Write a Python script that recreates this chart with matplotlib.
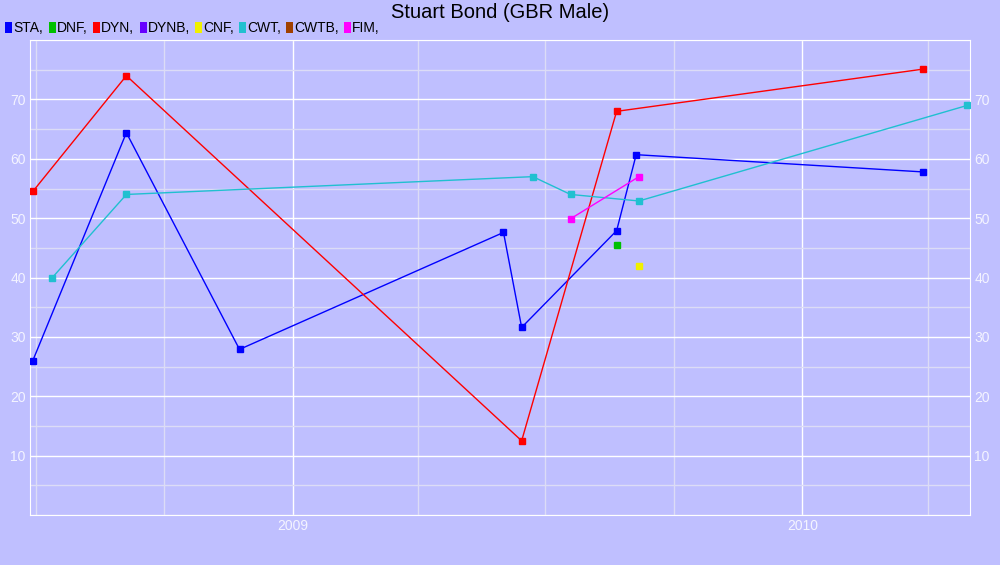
import numpy as np
import pandas as pd
import matplotlib
matplotlib.use("Agg")
import matplotlib.pyplot as plt
import matplotlib.dates as mdates
from matplotlib.patches import Rectangle
from matplotlib.ticker import MultipleLocator

plt.rcParams['font.family'] = ['Liberation Sans', 'DejaVu Sans']

# Event series
sta_dates = ["2008-06-29", "2008-09-04", "2008-11-24", "2009-06-01", "2009-06-14",
             "2009-08-21", "2009-09-04", "2010-03-28"]
sta_vals = [26.0, 64.4, 27.9, 47.6, 31.6, 47.9, 60.7, 57.8]

dnf_dates = ["2009-08-21"]
dnf_vals = [45.5]

dyn_dates = ["2008-06-29", "2008-09-04", "2009-06-14", "2009-08-21", "2010-03-28"]
dyn_vals = [54.5, 74.0, 12.5, 68.0, 75.1]

cnf_dates = ["2009-09-06"]
cnf_vals = [42.0]

cwt_dates = ["2008-07-13", "2008-09-04", "2009-06-22", "2009-07-19", "2009-09-06", "2010-04-29"]
cwt_vals = [40.0, 54.0, 57.0, 54.0, 52.9, 69.0]

fim_dates = ["2009-07-19", "2009-09-06"]
fim_vals = [49.9, 57.0]

legend_names = ["STA", "DNF", "DYN", "DYNB", "CNF", "CWT", "CWTB", "FIM"]
legend_colors = ["#0000ff", "#00c000", "#ff0000", "#6600ff", "#f0f000", "#20c0d0", "#a04000", "#ff00ff"]

bg = "#bfbfff"
W, H = 1000, 565
fig = plt.figure(figsize=(W / 100, H / 100), dpi=100, facecolor=bg)
ax = fig.add_axes([0.03, 0.0885, 0.94, 0.8405], facecolor=bg)

series = [
    (sta_dates, sta_vals, "#0000ff"),
    (dyn_dates, dyn_vals, "#ff0000"),
    (cwt_dates, cwt_vals, "#20c0d0"),
    (fim_dates, fim_vals, "#ff00ff"),
    (dnf_dates, dnf_vals, "#00c000"),
    (cnf_dates, cnf_vals, "#f0f000"),
]
for d, v, c in series:
    ax.plot(pd.to_datetime(d), v, color=c, lw=1, marker='s', ms=5, mec=c, mfc=c, zorder=3)

ax.set_xlim(pd.Timestamp("2008-06-27"), pd.Timestamp("2010-05-01"))
ax.set_ylim(0, 80)

ax.xaxis.set_major_locator(mdates.YearLocator())
ax.xaxis.set_major_formatter(mdates.DateFormatter("%Y"))
ax.xaxis.set_minor_locator(mdates.MonthLocator(bymonth=[4, 7, 10]))
ax.yaxis.set_minor_locator(MultipleLocator(5))
ax.set_yticks([10, 20, 30, 40, 50, 60, 70])

ax.grid(which='major', color='white', lw=1)
ax.grid(which='minor', color='#dcdcf6', lw=1)
ax.set_axisbelow(True)

for s in ax.spines.values():
    s.set_color('white')

ax.tick_params(which='both', length=0, colors='#f4f4ff', labelsize=10)
ax.tick_params(axis='y', right=True, labelright=True, pad=3)
ax.tick_params(axis='x', pad=3)

fig.text(0.5, 1 - 13 / H, "Stuart Bond (GBR Male)", ha='center', va='center', fontsize=14.5, color='black')

# legend row across the top left
leg_x = [5, 49, 93, 140, 195, 239, 286, 344]
leg_y = 27.5
for x, name, c in zip(leg_x, legend_names, legend_colors):
    fig.add_artist(Rectangle((x / W, 1 - (leg_y + 5) / H), 6.5 / W, 10 / H,
                             transform=fig.transFigure, color=c, lw=0))
    fig.text((x + 8) / W, 1 - leg_y / H, name + ",", ha='left', va='center', fontsize=10, color='black')

fig.savefig("out.png", dpi=100, facecolor=bg)
